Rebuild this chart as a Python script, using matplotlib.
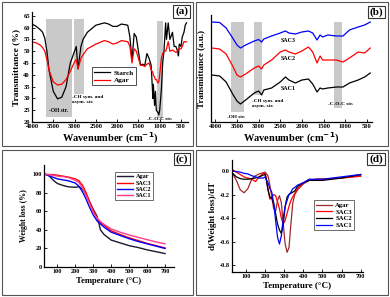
import matplotlib
matplotlib.use("Agg")
import matplotlib.pyplot as plt
from matplotlib.patches import Rectangle

plt.rcParams['font.family'] = ['Liberation Serif', 'DejaVu Serif']
plt.rcParams['font.weight'] = 'bold'
plt.rcParams['axes.labelweight'] = 'bold'

# ---------------- data ----------------
# (a) FTIR Starch / Agar
a_wn = [4000, 3900, 3800, 3750, 3700, 3650, 3600, 3500, 3400, 3300, 3200, 3100, 3000, 2960,
        2920, 2850, 2800, 2700, 2500, 2300, 2200, 2100, 2000, 1900, 1750, 1700, 1650, 1600,
        1550, 1500, 1450, 1400, 1350, 1300, 1250, 1200, 1160, 1150, 1120, 1100, 1080, 1040,
        1020, 1000, 960, 930, 900, 860, 840, 800, 760, 700, 660, 620, 580, 560, 540, 500,
        470, 430, 400, 370]
a_starch = [61.5, 60.5, 59, 58, 55.5, 50, 42, 33, 29.8, 30.5, 35, 45, 50, 52,
            42.5, 52, 55, 58, 61, 62, 61.5, 60.5, 60.5, 61.5, 61, 56, 46, 57.5,
            56, 50, 44, 44.5, 44, 49, 47, 44, 30, 36, 27, 33, 25, 24,
            23, 25, 34, 45, 50, 62, 55, 62, 55, 58, 52, 52, 50, 48, 53, 52,
            56, 58, 61, 62]
a_agar = [54, 53.5, 52.5, 51.5, 50, 46.5, 42, 37, 35.7, 36, 38, 41.5, 45.5, 46.5,
          42.5, 47, 48.5, 51, 53, 54.5, 54, 53, 53.5, 54.5, 54, 52, 45, 51,
          50, 47, 44, 44, 43.5, 44.5, 45, 42, 41, 40, 39, 38, 38, 36.5,
          37, 40, 47, 49, 50, 50, 51, 54, 50, 50.5, 50, 49.5, 50, 51, 51, 51,
          52, 54, 54, 54]

# (b) FTIR SAC1-3 (arbitrary units)
b_wn = [4080, 3900, 3750, 3600, 3500, 3420, 3300, 3100, 3000, 2930, 2880, 2700, 2500, 2380,
        2300, 2150, 2000, 1850, 1750, 1650, 1580, 1520, 1400, 1200, 1050, 900, 700, 550, 420]
b_sac3 = [100, 99.5, 94, 84, 77, 74, 77, 81, 82.5, 80, 83, 86, 89, 91,
          89, 88, 90, 91, 89, 82, 87, 85, 87, 86, 86, 92, 95, 97, 100]
b_sac2 = [74, 73, 68, 56, 47, 45, 48, 54, 56, 53, 57, 62, 70, 72,
          70, 68, 71, 75, 70, 59, 66, 62, 62, 62, 60, 64, 70, 69, 74]
b_sac1 = [47, 46, 40, 28, 21, 18, 22, 29, 31, 27, 32, 34, 40, 45,
          42, 39, 42, 43, 38, 30, 34, 33, 34, 35, 35, 39, 42, 45, 49]

# (c) TGA
c_T = [30, 50, 80, 100, 130, 160, 200, 220, 240, 260, 280, 300, 320, 330, 340, 360, 400,
       450, 500, 550, 600, 650, 700]
c_agar = [100, 99, 93, 90, 88, 86.5, 86, 86.5, 84, 78, 70, 62, 55, 48, 40, 35, 29,
          26, 23, 21, 18.5, 16.5, 14.5]
c_sac3 = [100, 99.8, 99.5, 99, 98, 97, 95, 93, 88, 80, 70, 61, 53, 50, 48, 45, 39,
          35, 31.5, 28.5, 25.5, 23, 20.5]
c_sac2 = [100, 98.5, 96.5, 95, 94, 93, 90.5, 87, 81, 73, 64, 56, 50, 48, 46.5, 43, 37.5,
          34, 30.5, 27.5, 25, 22.5, 20]
c_sac1 = [100, 99.5, 98.8, 98, 97.5, 96.5, 93.5, 91, 85, 77, 68, 59, 53, 51, 49, 46, 41,
          37.5, 34.5, 32, 29.5, 27, 25]

# (d) DTG
d_T = [30, 50, 70, 90, 110, 130, 150, 170, 190, 200, 205, 215, 225, 235, 245, 255, 265,
       275, 285, 295, 305, 315, 325, 335, 345, 355, 370, 400, 430, 470, 500, 600, 700]
d_agar = [-0.02, -0.08, -0.16, -0.185, -0.15, -0.07, -0.04, -0.025, -0.015, -0.01, -0.02,
          -0.04, -0.12, -0.22, -0.32, -0.34, -0.25, -0.21, -0.27, -0.45, -0.62, -0.69,
          -0.65, -0.45, -0.27, -0.2, -0.16, -0.11, -0.08, -0.07, -0.07, -0.06, -0.04]
d_sac3 = [0.01, -0.01, -0.03, -0.05, -0.06, -0.07, -0.09, -0.05, -0.02, -0.02, -0.05,
          -0.15, -0.24, -0.22, -0.2, -0.21, -0.26, -0.32, -0.4, -0.45, -0.42, -0.36,
          -0.3, -0.25, -0.22, -0.19, -0.15, -0.1, -0.08, -0.07, -0.07, -0.06, -0.045]
d_sac2 = [-0.02, -0.05, -0.065, -0.07, -0.07, -0.065, -0.06, -0.05, -0.035, -0.03, -0.06,
          -0.16, -0.22, -0.23, -0.28, -0.36, -0.45, -0.5, -0.53, -0.45, -0.3, -0.22,
          -0.2, -0.19, -0.18, -0.17, -0.13, -0.1, -0.08, -0.08, -0.08, -0.06, -0.03]
d_sac1 = [0.0, -0.005, -0.01, -0.02, -0.025, -0.04, -0.05, -0.06, -0.06, -0.05, -0.07,
          -0.1, -0.15, -0.18, -0.27, -0.42, -0.56, -0.62, -0.55, -0.4, -0.3, -0.25,
          -0.2, -0.18, -0.15, -0.14, -0.12, -0.1, -0.07, -0.07, -0.07, -0.05, -0.03]

# ---------------- figure ----------------
W, H = 390, 297
fig = plt.figure(figsize=(W / 100, H / 100), dpi=100)
fig.patch.set_facecolor('white')


def add_ax(l, r, t, b):
    return fig.add_axes([l / W, 1 - b / H, (r - l) / W, (b - t) / H])


def frame(l, r, t, b):
    fig.patches.append(Rectangle((l / W, 1 - b / H), (r - l) / W, (b - t) / H,
                                 transform=fig.transFigure, fill=False,
                                 edgecolor='#555555', linewidth=0.8))


def tag(x, y, s):
    fig.text(x / W, 1 - y / H, s, fontsize=8, fontweight='bold', ha='center', va='center',
             bbox=dict(boxstyle='square,pad=0.15', facecolor='white', edgecolor='#333333',
                       linewidth=0.8))


def style(ax, fs=4.7):
    for s in ['top', 'right']:
        ax.spines[s].set_visible(False)
    for s in ['left', 'bottom']:
        ax.spines[s].set_linewidth(0.9)
    ax.tick_params(direction='in', length=2, width=0.6, labelsize=fs, pad=1.5)
    for lab in ax.get_xticklabels() + ax.get_yticklabels():
        lab.set_fontweight('bold')


frame(2, 193, 2, 146)
frame(196, 388, 2, 146)
frame(2, 193, 150, 295)
frame(196, 388, 150, 295)

band = '#c9c9c9'

# (a)
axa = add_ax(32, 188, 12, 122)
axa.axvspan(3680, 3070, ymin=(22 - 20) / 46.6, ymax=(63.6 - 20) / 46.6, color=band, lw=0)
axa.axvspan(3015, 2780, ymin=(32 - 20) / 46.6, ymax=(63.6 - 20) / 46.6, color=band, lw=0)
axa.axvspan(1060, 920, ymin=(21.7 - 20) / 46.6, ymax=(62.7 - 20) / 46.6, color=band, lw=0)
axa.plot(a_wn, a_starch, color='black', lw=0.9, label='Starch')
axa.plot(a_wn, a_agar, color='red', lw=0.9, label='Agar')
axa.set_xlim(4000, 335)
axa.set_ylim(20, 66.6)
axa.set_xticks(range(4000, 499, -500))
axa.set_yticks(range(20, 66, 5))
style(axa)
axa.set_xlabel('Wavenumber (cm$^{-1}$)', fontsize=7.5, labelpad=1)
axa.set_ylabel('Transmittance (%)', fontsize=6.8, labelpad=2)
axa.text(3380, 24.8, '-OH str.', fontsize=4, ha='center', va='center')
axa.text(3050, 29.5, '-CH sym. and\nasym. str.', fontsize=3.8, ha='left', va='center',
         linespacing=1.1)
axa.text(1000, 21.3, '-C-O-C str.', fontsize=3.8, ha='center', va='center')
leg = axa.legend(loc='upper left', bbox_to_anchor=(0.36, 0.53), fontsize=5.2,
                 frameon=True, fancybox=False, edgecolor='black', handlelength=2.2,
                 borderpad=0.3, labelspacing=0.2, handletextpad=0.5)
leg.get_frame().set_linewidth(0.6)
for t in leg.get_texts():
    t.set_fontweight('bold')
tag(181.5, 11.5, '(a)')

# (b)
axb = add_ax(211, 372, 15, 122)
axb.axvspan(3630, 3340, ymin=10 / 107, ymax=100 / 107, color=band, lw=0)
axb.axvspan(3110, 2915, ymin=27 / 107, ymax=100 / 107, color=band, lw=0)
axb.axvspan(1250, 1065, ymin=14 / 107, ymax=100 / 107, color=band, lw=0)
axb.plot(b_wn, b_sac3, color='blue', lw=0.9)
axb.plot(b_wn, b_sac2, color='red', lw=0.9)
axb.plot(b_wn, b_sac1, color='black', lw=0.9)
axb.set_xlim(4100, 380)
axb.set_ylim(0, 107)
axb.set_xticks(range(4000, 499, -500))
axb.set_yticks([])
style(axb)
axb.set_xlabel('Wavenumber (cm$^{-1}$)', fontsize=7.5, labelpad=1)
axb.set_ylabel('Transmittance (a.u.)', fontsize=6.5, labelpad=4)
axb.text(2320, 82, 'SAC3', fontsize=4.3, ha='center', va='center')
axb.text(2320, 64, 'SAC2', fontsize=4.3, ha='center', va='center')
axb.text(2320, 34, 'SAC1', fontsize=4.3, ha='center', va='center')
axb.text(3520, 5, '-OH str.', fontsize=3.8, ha='center', va='center')
axb.text(3160, 18.5, '-CH sym. and\nasym. str.', fontsize=3.8, ha='left', va='center',
         linespacing=1.1)
axb.text(1110, 18, '-C-O-C str.', fontsize=3.8, ha='center', va='center')
tag(376.5, 12, '(b)')

# (c)
axc = add_ax(44, 174, 165, 267)
axc.plot(c_T, c_agar, color='#1a1a2e', lw=1.0, label='Agar')
axc.plot(c_T, c_sac3, color='red', lw=1.0, label='SAC3')
axc.plot(c_T, c_sac2, color='blue', lw=1.0, label='SAC2')
axc.plot(c_T, c_sac1, color='#ff3c8c', lw=1.0, label='SAC1')
axc.set_xlim(25, 750)
axc.set_ylim(0, 110)
axc.set_xticks(range(100, 701, 100))
axc.set_yticks(range(0, 101, 20))
style(axc, 4.5)
axc.set_xlabel('Temperature (°C)', fontsize=6.2, labelpad=2)
axc.set_ylabel('Weight loss (%)', fontsize=5.6, labelpad=3)
leg = axc.legend(loc='upper left', bbox_to_anchor=(0.52, 0.96), fontsize=4.5,
                 frameon=True, fancybox=False, edgecolor='black', handlelength=2.6,
                 borderpad=0.3, labelspacing=0.15, handletextpad=0.5)
leg.get_frame().set_linewidth(0.5)
for t in leg.get_texts():
    t.set_fontweight('bold')
tag(182, 159, '(c)')

# (d)
axd = add_ax(232, 363, 160, 272)
axd.plot(d_T, d_agar, color='#a0282d', lw=0.9, label='Agar')
axd.plot(d_T, d_sac3, color='red', lw=0.9, label='SAC3')
axd.plot(d_T, d_sac2, color='black', lw=0.9, label='SAC2')
axd.plot(d_T, d_sac1, color='blue', lw=0.9, label='SAC1')
axd.set_xlim(27, 712)
axd.set_ylim(-0.857, 0.093)
axd.set_xticks(range(100, 701, 100))
axd.set_yticks([0.0, -0.2, -0.4, -0.6, -0.8])
axd.set_yticklabels(['0.0', '-0.2', '-0.4', '-0.6', '-0.8'])
style(axd, 4.5)
axd.set_xlabel('Temperature (°C)', fontsize=6.5, labelpad=2)
axd.set_ylabel('d(Weight loss)/dT', fontsize=6.5, labelpad=2)
leg = axd.legend(loc='upper left', bbox_to_anchor=(0.6, 0.67), fontsize=4.8,
                 frameon=True, fancybox=False, edgecolor='black', handlelength=2.4,
                 borderpad=0.3, labelspacing=0.15, handletextpad=0.5)
leg.get_frame().set_linewidth(0.5)
for t in leg.get_texts():
    t.set_fontweight('bold')
tag(376, 159, '(d)')

fig.savefig('out.png', dpi=100, facecolor='white')
